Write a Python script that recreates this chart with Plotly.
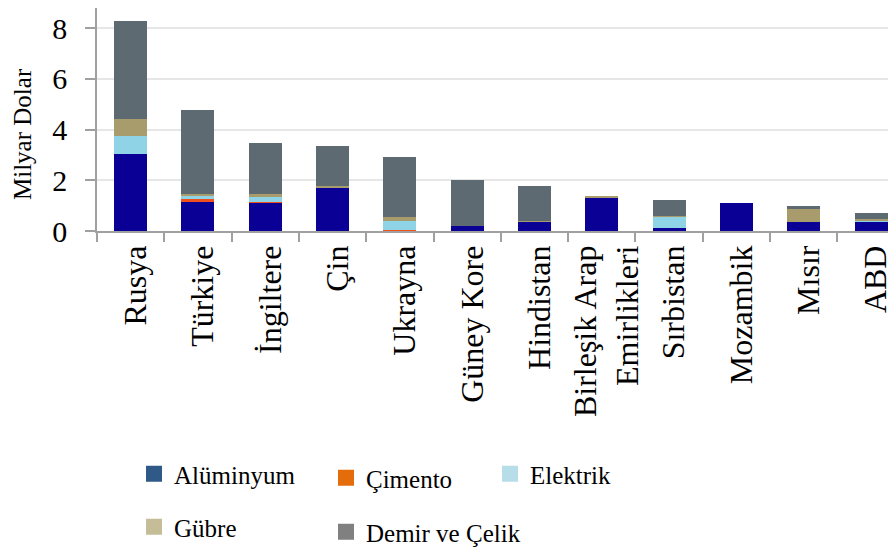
import plotly.graph_objects as go

countries = ["Rusya", "Türkiye", "İngiltere", "Çin", "Ukrayna", "Güney Kore",
             "Hindistan", "Birleşik Arap<br>Emirlikleri", "Sırbistan", "Mozambik",
             "Mısır", "ABD"]
aluminyum = [3.02, 1.16, 1.11, 1.70, 0.02, 0.18, 0.37, 1.34, 0.13, 1.09, 0.36, 0.38]
cimento   = [0.00, 0.12, 0.03, 0.02, 0.03, 0.00, 0.00, 0.00, 0.00, 0.00, 0.00, 0.00]
elektrik  = [0.71, 0.09, 0.20, 0.00, 0.36, 0.00, 0.00, 0.00, 0.45, 0.00, 0.00, 0.02]
gubre     = [0.70, 0.09, 0.12, 0.06, 0.13, 0.00, 0.02, 0.02, 0.02, 0.00, 0.51, 0.07]
demir     = [3.85, 3.30, 2.00, 1.59, 2.39, 1.82, 1.39, 0.00, 0.64, 0.00, 0.10, 0.23]

series_names = ["Alüminyum", "Çimento", "Elektrik", "Gübre", "Demir ve Çelik"]
series_values = [aluminyum, cimento, elektrik, gubre, demir]
bar_colors = ["#0A0096", "#F0501E", "#8ED3E6", "#A89B6C", "#5E6A72"]
legend_colors = ["#2F5A88", "#E46C0A", "#B7DEE8", "#C4BD97", "#808080"]
y_title = "Milyar Dolar"

FONT = "Liberation Serif, Times New Roman, serif"
W, H = 896, 554
ML, MR, MT, MB = 89, 0, 0, 331
PW, PH = W - ML - MR, H - MT - MB
YTOP = 8.80
XRIGHT = 11.49

fig = go.Figure()
for name, vals, col in zip(series_names, series_values, bar_colors):
    fig.add_trace(go.Bar(x=countries, y=vals, name=name, marker_color=col,
                         marker_line_width=0, showlegend=False))

# legend entries (swatch colours as in the reference key)
legend_ids = ["legend", "legend2", "legend3", "legend4", "legend5"]
legend_xy = [(126, 443), (318, 447), (482, 443), (126, 496), (318, 501)]
for name, col, lid in zip(series_names, legend_colors, legend_ids):
    fig.add_trace(go.Scatter(x=[countries[0]], y=[None], mode="markers", name=name,
                             marker=dict(symbol="square", size=17, color=col),
                             legend=lid, showlegend=True, hoverinfo="skip"))

leg_common = dict(font=dict(family=FONT, size=25, color="black"),
                  bgcolor="rgba(0,0,0,0)", borderwidth=0,
                  xanchor="left", yanchor="top", itemsizing="trace")
legends = {}
for lid, (px, py) in zip(legend_ids, legend_xy):
    legends[lid] = dict(x=(px - ML) / PW, y=(H - MB - py) / PH, **leg_common)

fig.update_layout(
    width=W, height=H,
    margin=dict(l=ML, r=MR, t=MT, b=MB, autoexpand=False),
    paper_bgcolor="white", plot_bgcolor="white",
    barmode="stack", bargap=0.51,
    font=dict(family=FONT, color="black"),
    **legends,
)
# y-axis title
fig.add_annotation(text=y_title, xref="paper", yref="paper",
                   x=(14 - ML) / PW, y=(PH - 126) / PH, xanchor="center", yanchor="middle",
                   textangle=-90, showarrow=False,
                   font=dict(family=FONT, size=25, color="black"))
fig.update_xaxes(
    range=[-0.5, XRIGHT], type="category",
    tickson="boundaries", ticks="outside", ticklen=9, tickcolor="#A0A0A0", tickwidth=1.5,
    tickangle=-90, tickfont=dict(family=FONT, size=32, color="black"),
    ticklabelstandoff=0, ticklabelshift=5,
    showline=True, linecolor="#A0A0A0", linewidth=1.5,
    showgrid=False, automargin=False,
)
fig.update_yaxes(
    range=[0, YTOP], tickvals=[0, 2, 4, 6, 8],
    ticks="outside", ticklen=10, tickcolor="#A0A0A0", tickwidth=1.5,
    tickfont=dict(family=FONT, size=30, color="black"),
    ticklabelstandoff=12,
    showline=True, linecolor="#A0A0A0", linewidth=1.5,
    showgrid=True, gridcolor="#E6E6E6", gridwidth=1.5,
    zeroline=False, automargin=False,
)
fig.write_html("out.html")
